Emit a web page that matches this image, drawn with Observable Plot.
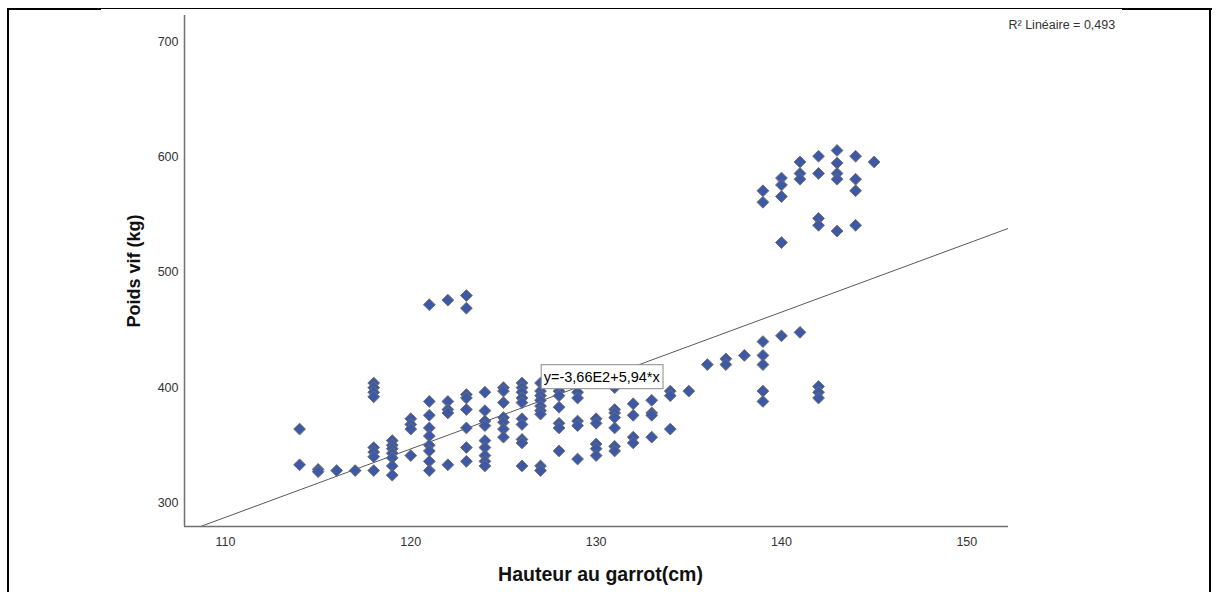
<!DOCTYPE html>
<html>
<head>
<meta charset="utf-8">
<script src="https://cdn.jsdelivr.net/npm/d3@7"></script>
<script src="https://cdn.jsdelivr.net/npm/@observablehq/plot@0.6"></script>
<style>
  html, body { margin: 0; padding: 0; background: #fff; }
  #wrap { position: relative; width: 1216px; height: 592px; overflow: hidden; font-family: "Liberation Sans", Arial, sans-serif; }
  #wrap svg { position: absolute; left: 0; top: 0; }
  .edge { position: absolute; background: #000; }
</style>
</head>
<body>
<div id="wrap">
  <div class="edge" style="left:7px;top:8px;width:2px;height:584px"></div>
  <div class="edge" style="left:7px;top:8px;width:94px;height:2px"></div>
  <div class="edge" style="left:100px;top:8px;width:1022px;height:1px"></div>
  <div class="edge" style="left:1122px;top:8px;width:90px;height:2px"></div>
  <div class="edge" style="left:1209px;top:8px;width:2px;height:584px"></div>
</div>
<script>
// Height at withers (cm), one entry per column of points
const heightsCm = [114,115,116,117,118,119,120,121,122,123,124,125,126,127,128,129,130,131,132,133,134,135,136,137,138,139,140,141,142,143,144,145];
// Live weights (kg) observed at each height
const weightsKg = [
  [364,333],
  [329,327],
  [328],
  [328],
  [404,400,396,392,348,344,340,328],
  [354,350,347,343,339,332,324],
  [373,368,364,341],
  [472,388,376,365,358,350,345,336,328],
  [476,388,381,378,333],
  [480,469,394,391,381,365,348,336],
  [396,380,371,367,354,348,341,336,332],
  [400,397,387,374,370,364,357],
  [404,400,396,391,387,373,368,355,352,332],
  [404,397,393,389,384,380,377,332,328],
  [397,393,383,369,365,345],
  [396,391,371,367,338],
  [373,369,351,347,341],
  [400,381,378,374,365,349,345],
  [386,376,357,352],
  [389,378,376,357],
  [397,393,364],
  [397],
  [420],
  [425,420],
  [428],
  [571,561,440,428,420,397,388],
  [582,576,566,526,445],
  [596,586,581,448],
  [601,586,547,541,401,396,391],
  [606,595,586,581,536],
  [601,581,571,541],
  [596]
];
const xTicks = [110,120,130,140,150];
const yTicks = [300,400,500,600,700];
const xDomain = [107.79, 152.25];
const yDomain = [279.4, 723.2];
// Linear fit reported by the chart
const fitIntercept = -366;
const fitSlope = 5.94;
const fitLabel = ["y=-3,66E2+5,94*x"];
const fitLabelX = [127.17];
const fitLabelY = [409.2];
const r2Label = ["R\u00b2 Lin\u00e9aire = 0,493"];
const xLabel = ["Hauteur au garrot(cm)"];
const yLabel = ["Poids vif (kg)"];

const points = heightsCm.flatMap((h, i) => weightsKg[i].map(w => ({h, w})));
const fitLine = xDomain.map(x => ({x, y: fitIntercept + fitSlope * x}));
const eqData = fitLabel.map((t, i) => ({t, x: fitLabelX[i], y: fitLabelY[i]}));

const chart = Plot.plot({
  width: 1216,
  height: 592,
  marginLeft: 184,
  marginRight: 208,
  marginTop: 15,
  marginBottom: 66,
  style: {fontFamily: "'Liberation Sans', Arial, sans-serif", fontSize: "12.5px", color: "#333", background: "transparent"},
  x: {domain: xDomain, ticks: xTicks, tickSize: 0, tickPadding: 11, label: null},
  y: {domain: yDomain, ticks: yTicks, tickSize: 0, tickPadding: 6, label: null},
  marks: [
    Plot.line(fitLine, {x: "x", y: "y", stroke: "#5a5a5a", strokeWidth: 1, clip: true}),
    Plot.dot(points, {x: "h", y: "w", symbol: "diamond2", r: 5.3, fill: "#3c58a6", stroke: "#6e6e6e", strokeWidth: 1}),
    Plot.ruleX([xDomain[0]], {stroke: "#707070", strokeWidth: 1.5}),
    Plot.ruleY([yDomain[0]], {stroke: "#707070", strokeWidth: 1.5}),
    Plot.text(eqData, {x: "x", y: "y", text: "t", textAnchor: "start", fontSize: 14.5, fill: "#000"}),
    Plot.text(r2Label, {frameAnchor: "top-right", textAnchor: "start", lineAnchor: "middle", dy: 9, fontSize: 12.5, fill: "#333"}),
    Plot.text(xLabel, {frameAnchor: "bottom", textAnchor: "middle", lineAnchor: "middle", dx: 4, dy: 48, fontSize: 19.5, fontWeight: "bold", fill: "#111"}),
    Plot.text(yLabel, {frameAnchor: "left", textAnchor: "middle", lineAnchor: "middle", dx: -50, rotate: -90, fontSize: 18, fontWeight: "bold", fill: "#111"})
  ]
});
document.getElementById("wrap").prepend(chart);

// white box with grey border behind the fit equation
d3.select(chart).selectAll("text").each(function() {
  if (this.textContent === fitLabel[0]) {
    const bb = this.getBBox();
    const ctm = this.getAttribute("transform");
    const rect = document.createElementNS("http://www.w3.org/2000/svg", "rect");
    rect.setAttribute("x", bb.x - 2.5);
    rect.setAttribute("y", bb.y - 4);
    rect.setAttribute("width", bb.width + 5);
    rect.setAttribute("height", bb.height + 8);
    rect.setAttribute("fill", "#fff");
    rect.setAttribute("stroke", "#8a8a8a");
    rect.setAttribute("stroke-width", 1);
    if (ctm) rect.setAttribute("transform", ctm);
    this.parentNode.insertBefore(rect, this);
  }
});
</script>
</body>
</html>
